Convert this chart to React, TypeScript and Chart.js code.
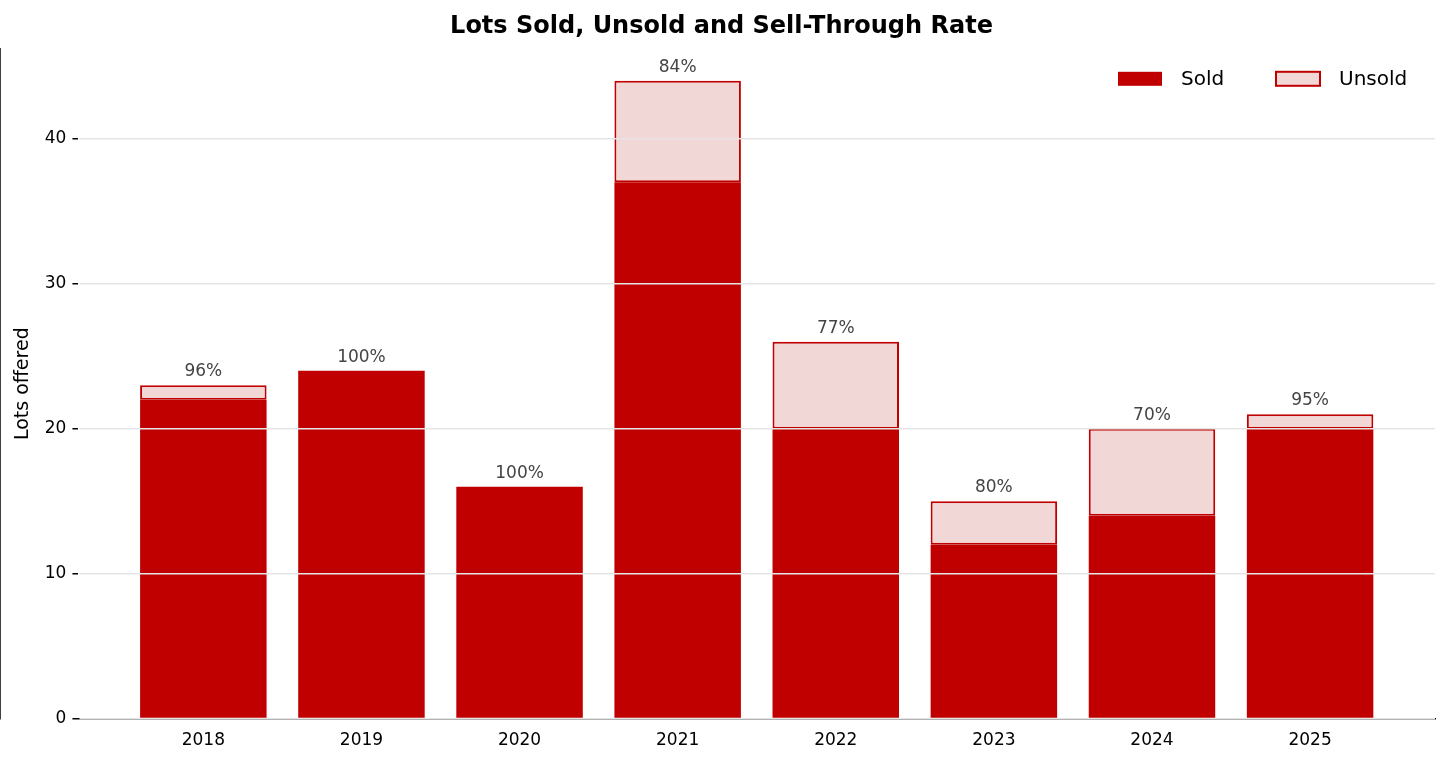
import React, { useEffect, useRef } from "react";
import { Chart, registerables } from "chart.js";
Chart.register(...registerables);

const years = ["2018", "2019", "2020", "2021", "2022", "2023", "2024", "2025"];
const sold = [22, 24, 16, 37, 20, 12, 14, 20];
const unsold = [1, 0, 0, 7, 6, 3, 6, 1];
const rates = ["96%", "100%", "100%", "84%", "77%", "80%", "70%", "95%"];

const RED = "#c00000";
const PINK = "#f2d7d7";
const FONT = "'DejaVu Sans', sans-serif";

const overlay = {
  id: "overlay",
  afterDatasetsDraw(chart: any) {
    const { ctx, scales, chartArea } = chart;
    ctx.save();
    ctx.font = `17px ${FONT}`;
    ctx.fillStyle = "#444";
    ctx.textAlign = "center";
    ctx.textBaseline = "bottom";
    years.forEach((_, i) => {
      const x = scales.x.getPixelForValue(i);
      const y = scales.y.getPixelForValue(sold[i] + unsold[i]);
      ctx.fillText(rates[i], x, y - 5);
    });
    // legend
    const top = chartArea.top + 30;
    ctx.font = `20px ${FONT}`;
    ctx.textAlign = "left";
    ctx.textBaseline = "middle";
    ctx.fillStyle = RED;
    ctx.fillRect(1118, top - 7, 44, 14);
    ctx.fillStyle = "#000";
    ctx.fillText("Sold", 1181, top + 1);
    ctx.fillStyle = PINK;
    ctx.fillRect(1276, top - 7, 44, 14);
    ctx.strokeStyle = RED;
    ctx.lineWidth = 2;
    ctx.strokeRect(1276, top - 7, 44, 14);
    ctx.fillStyle = "#000";
    ctx.fillText("Unsold", 1339, top + 1);
    ctx.restore();
  },
};

export default function App() {
  const ref = useRef<HTMLCanvasElement>(null);
  useEffect(() => {
    document.body.style.margin = "0";
    const chart = new Chart(ref.current!, {
      type: "bar",
      data: {
        datasets: [
          {
            label: "Sold",
            data: sold.map((v, i) => ({ x: i, y: v })),
            backgroundColor: RED,
            borderWidth: 0,
            barPercentage: 0.8,
            categoryPercentage: 1,
          },
          {
            label: "Unsold",
            data: unsold.map((v, i) => ({ x: i, y: v })),
            backgroundColor: PINK,
            borderColor: RED,
            borderWidth: 2,
            borderSkipped: false,
            barPercentage: 0.8,
            categoryPercentage: 1,
          },
        ],
      },
      options: {
        animation: false,
        responsive: false,
        layout: { padding: { right: 17, bottom: 10, left: 8 } },
        plugins: {
          legend: { display: false },
          tooltip: { enabled: false },
          title: {
            display: true,
            text: "Lots Sold, Unsold and Sell-Through Rate",
            font: { family: FONT, size: 24, weight: "bold" },
            color: "#000",
            padding: { top: 12, bottom: 8 },
          },
        },
        scales: {
          x: {
            type: "linear",
            stacked: true,
            min: -0.79,
            max: 7.79,
            offset: false,
            afterBuildTicks: (s: any) => {
              s.ticks = years.map((_, i) => ({ value: i }));
            },
            ticks: {
              callback: (v: any) => years[v] ?? "",
              font: { family: FONT, size: 17 },
              color: "#000",
              padding: 6,
            },
            grid: { display: false, drawTicks: true, tickLength: 6, color: "#000" },
            border: { color: "#000", width: 1.5 },
          },
          y: {
            stacked: true,
            min: 0,
            max: 46.2,
            afterBuildTicks: (s: any) => {
              s.ticks = [0, 10, 20, 30, 40].map((v) => ({ value: v }));
            },
            ticks: { font: { family: FONT, size: 17 }, color: "#000", padding: 6 },
            title: {
              display: true,
              text: "Lots offered",
              font: { family: FONT, size: 19 },
              color: "#000",
            },
            grid: { color: "#e5e5e5", lineWidth: 1.5, tickColor: "#000", tickLength: 6, z: 1 },
            border: { color: "#000", width: 1.5 },
          },
        },
      } as any,
      plugins: [overlay],
    });
    return () => chart.destroy();
  }, []);
  return (
    <div style={{ width: 1452, height: 767 }}>
      <canvas ref={ref} width={1452} height={767} />
    </div>
  );
}
